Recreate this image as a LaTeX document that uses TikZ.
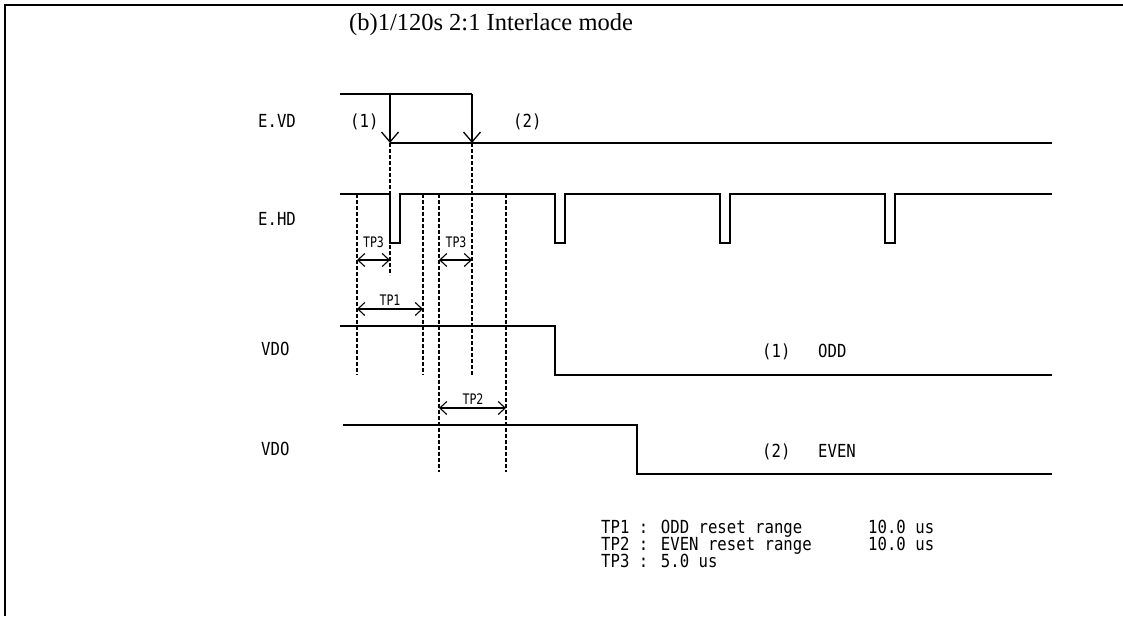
\documentclass[tikz,border=0pt]{standalone}
\usepackage{fontspec}
\setmainfont{Liberation Serif}
\newfontfamily\gothic[FakeStretch=0.87]{DejaVu Sans Mono}
\newfontfamily\gothicsmall[FakeStretch=0.8]{DejaVu Sans Mono}
\usetikzlibrary{arrows.meta}

\tikzset{
  sig/.style={draw=black,line width=1.3pt},
  guide/.style={draw=black,line width=1.1pt,dash pattern=on 4pt off 2pt},
  span/.style={draw=black,line width=1.1pt,{Straight Barb[length=7pt,width=13pt]}-{Straight Barb[length=7pt,width=13pt]}},
  edgearrow/.style={draw=black,line width=1.3pt,-{Straight Barb[length=10pt,width=17pt]}},
  lbl/.style={inner sep=0pt,anchor=base west,font=\gothic\fontsize{18}{20}\selectfont},
  tp/.style={inner sep=0pt,anchor=base,font=\gothicsmall\fontsize{14.5}{16}\selectfont},
}

\begin{document}
\begin{tikzpicture}[x=1pt,y=-1pt]
\useasboundingbox (0,0) rectangle (1123,616);
% frame:
\path[draw=black,line width=2pt] (1123,5) -- (5,5) -- (5,616);
\node[anchor=base west,inner sep=0pt,font=\fontsize{24.5}{28}\selectfont] (title) at (349,30) {(b)1/120s 2:1 Interlace mode};
% signal names:
\node[lbl] (evd) at (258,127) {E.VD};
\node[lbl] (ehd) at (258,225) {E.HD};
\node[lbl] (vdoa) at (261,355) {VDO};
\node[lbl] (vdob) at (261,455) {VDO};
% E.VD:
\path[sig] (340,94) -- (472,94);
\path[edgearrow] (390,94) -- (390,143);
\path[edgearrow] (472,94) -- (472,143);
\path[sig] (390,143) -- (1052,143);
\node[lbl] (fielda) at (350,127) {(1)};
\node[lbl] (fieldb) at (513,127) {(2)};
% E.HD:
\path[sig] (340,194) foreach \p in {390,555,720,885} {
  -- (\p,194) -- (\p,243) -- ({\p+10},243) -- ({\p+10},194)} -- (1052,194);
% VDO:
\path[sig] (340,326) -- (555,326) -- (555,375) -- (1052,375);
\path[sig] (343,425) -- (637,425) -- (637,474) -- (1052,474);
\node[lbl] (odda) at (762,357) {(1)};
\node[lbl] (oddb) at (818,357) {ODD};
\node[lbl] (evena) at (762,457) {(2)};
\node[lbl] (evenb) at (818,457) {EVEN};
% guides:
\path[guide] (390,143) -- (390,275);
\path[guide] (472,143) -- (472,375);
\path[guide] (357,194) -- (357,375);
\path[guide] (423,194) -- (423,375);
\path[guide] (439,194) -- (439,472);
\path[guide] (506,194) -- (506,472);
% ranges:
\path[span] (357,260) -- (390,260);
\path[span] (439,260) -- (472,260);
\path[span] (357,309) -- (423,309);
\path[span] (439,408) -- (506,408);
\node[tp] (tpc1) at (373.5,247) {TP3};
\node[tp] (tpc2) at (456,247) {TP3};
\node[tp] (tpa) at (390,305) {TP1};
\node[tp] (tpb) at (473,404) {TP2};
% notes:
\node[lbl] (nodda) at (601,533) {TP1 : ODD reset range};
\node[lbl] (noddb) at (868,533) {10.0 us};
\node[lbl] (nevena) at (601,550) {TP2 : EVEN reset range};
\node[lbl] (nevenb) at (868,550) {10.0 us};
\node[lbl] (ntp) at (601,567) {TP3 : 5.0 us};
\end{tikzpicture}
\end{document}
